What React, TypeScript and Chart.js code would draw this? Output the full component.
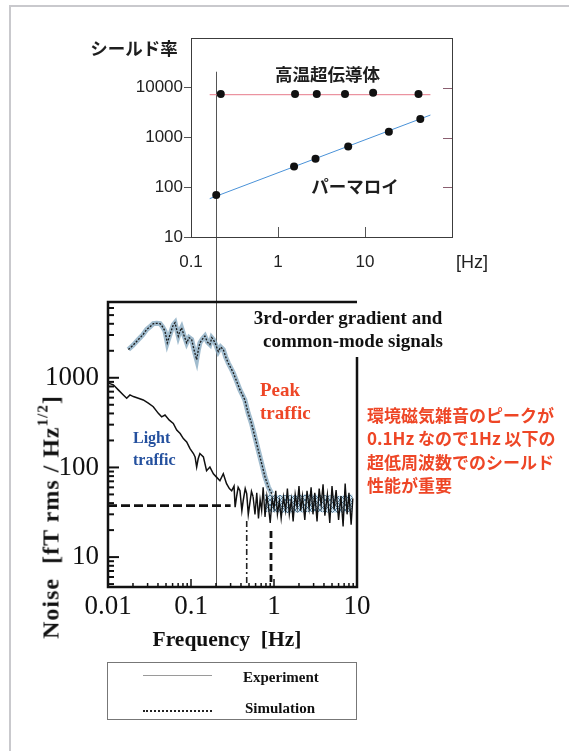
import React, { useEffect, useRef } from "react";
import { Chart, registerables } from "chart.js";

Chart.register(...registerables);

// ---------------- Top chart: shielding factor vs frequency ----------------
const SC_FREQ = [0.22, 1.57, 2.79, 5.89, 12.4, 41.2];
const SC_VALUES = [7470, 7470, 7470, 7470, 7900, 7470];
const SC_FIT_FREQ = [0.164, 56.5];
const SC_FIT_VALUES = [7250, 7250];
const PM_FREQ = [0.195, 1.53, 2.7, 6.41, 18.8, 43.2];
const PM_VALUES = [70, 262, 374, 661, 1306, 2350];
const PM_FIT_FREQ = [0.164, 56.5];
const PM_FIT_VALUES = [59, 2825];
const TOP_X_TICKS = [0.1, 1, 10];
const TOP_Y_TICKS = [10, 100, 1000, 10000];
const TOP_RIGHT_TICKS = [100, 1000, 10000];
const TOP_X_RANGE = [0.1, 100];
const TOP_Y_RANGE = [10, 100000];
const MARKER_FREQ_TOP = 0.194;
const MARKER_TOP_VALUE = 21000;

// ---------------- Bottom chart: environmental noise ----------------
const BOT_X_TICKS = [0.01, 0.1, 1, 10];
const BOT_Y_TICKS = [10, 100, 1000];
const BOT_X_RANGE = [0.01, 10];
const BOT_Y_RANGE = [4.64, 7000];
const MARKER_FREQ_BOTTOM = 0.2;
const RIGHT_BORDER_FROM = 1700;
const MINOR_MULTIPLIERS = [2, 3, 4, 5, 6, 7, 8, 9];
const BOT_Y_DECADES = [1, 10, 100, 1000];
const BOT_X_DECADES = [0.01, 0.1, 1];

const PEAK_FREQ = [
  0.0176, 0.02, 0.0232, 0.0262, 0.0292, 0.032, 0.0351, 0.0385, 0.0424, 0.0455,
  0.0486, 0.0518, 0.055, 0.0585, 0.0612, 0.0642, 0.067, 0.0703, 0.0735, 0.077,
  0.082, 0.0887, 0.095, 0.1018, 0.108, 0.117, 0.122, 0.128, 0.137, 0.147,
  0.158, 0.169, 0.178, 0.186, 0.2, 0.213, 0.228, 0.245, 0.262, 0.281,
  0.3, 0.324, 0.355, 0.389, 0.415, 0.445, 0.489, 0.536, 0.589, 0.647,
  0.711, 0.78, 0.858, 0.94,
];
const PEAK_VALUES = [
  2066, 2300, 2670, 3000, 3460, 3700, 4010, 4050, 4010, 3700,
  3310, 2450, 2900, 3460, 3900, 4110, 3500, 2910, 3300, 3610,
  3000, 2450, 2800, 2670, 2100, 1590, 2000, 2450, 2700, 2910,
  2500, 2350, 2800, 2670, 2300, 1970, 2200, 2066, 1700, 1460,
  1300, 1130, 910, 733, 650, 566, 401, 310, 219, 155,
  110, 78, 60, 51,
];

const LIGHT_FREQ = [
  0.0101, 0.0116, 0.0133, 0.0153, 0.0168, 0.0184, 0.0202, 0.0232, 0.0266, 0.0306,
  0.0351, 0.0404, 0.0443, 0.0486, 0.0548, 0.0612, 0.0673, 0.074, 0.0809, 0.0887,
  0.0973, 0.107, 0.112, 0.117, 0.122, 0.128, 0.141, 0.154, 0.169, 0.186,
  0.203, 0.223, 0.245, 0.268, 0.29, 0.309, 0.33, 0.34, 0.355, 0.37,
  0.389, 0.41, 0.426, 0.45, 0.469, 0.49, 0.51, 0.535, 0.56,
];
const LIGHT_VALUES = [
  872, 834, 733, 644, 591, 644, 617, 591, 566, 520,
  476, 401, 367, 384, 337, 310, 261, 239, 210, 192,
  162, 143, 131, 101, 125, 143, 131, 92, 101, 85,
  78, 71, 85, 66, 58, 55, 62, 36, 48, 60,
  55, 33, 43, 58, 51, 30, 39, 54, 47,
];

const FLOOR_FREQ = [
  0.56, 0.59, 0.62, 0.65, 0.68, 0.71, 0.74, 0.78, 0.82, 0.86,
  0.9, 0.95, 1.0, 1.05, 1.1, 1.16, 1.22, 1.3, 1.38, 1.45,
  1.53, 1.62, 1.7, 1.8, 1.9, 2.0, 2.1, 2.2, 2.35, 2.5,
  2.65, 2.8, 2.95, 3.1, 3.3, 3.5, 3.7, 3.9, 4.1, 4.4,
  4.7, 5.0, 5.3, 5.6, 6.0, 6.4, 6.8, 7.2, 7.6, 8.0,
  8.5, 8.9,
];
const FLOOR_VALUES = [
  47, 30, 52, 27, 44, 33, 60, 28, 48, 36,
  24, 45, 35, 55, 30, 42, 27, 47, 33, 58,
  30, 44, 25, 50, 36, 62, 33, 48, 26, 55,
  35, 60, 30, 52, 25, 58, 38, 65, 29, 50,
  24, 62, 34, 56, 26, 48, 22, 66, 30, 52,
  23, 45,
];

const BAND_FREQ = [0.78, 1.5, 3, 6, 8.9];
const BAND_TOP = [50, 49, 50, 48, 50];
const BAND_BOTTOM = [32, 31, 32, 31, 32];

const SIM_FREQ = [0.01, 0.3];
const SIM_VALUES = [37.5, 37.5];
const SIM_CUT1_FREQ = [0.469, 0.469];
const SIM_CUT1_VALUES = [25.3, 4.64];
const SIM_CUT2_FREQ = [0.92, 0.92];
const SIM_CUT2_VALUES = [19.6, 4.64];

const sansFont = "'Liberation Sans', Arial, sans-serif";
const serifFont = "'Liberation Serif', 'Times New Roman', serif";
const cjkFont = "'Noto Sans CJK JP', 'Noto Sans CJK SC', sans-serif";

const pts = (xs: number[], ys: number[]) => xs.map((x, i) => ({ x, y: ys[i] }));

function makeHatch(): CanvasPattern | string {
  const c = document.createElement("canvas");
  c.width = 5;
  c.height = 5;
  const g = c.getContext("2d");
  if (!g) return "rgba(150,185,210,0.7)";
  g.fillStyle = "rgba(205,225,238,1)";
  g.fillRect(0, 0, 5, 5);
  g.strokeStyle = "rgba(60,100,130,0.85)";
  g.lineWidth = 1;
  g.beginPath();
  g.moveTo(0, 0);
  g.lineTo(5, 5);
  g.moveTo(5, 0);
  g.lineTo(0, 5);
  g.stroke();
  return g.createPattern(c, "repeat") || "rgba(150,185,210,0.7)";
}

const noPadX = (s: any) => { s.paddingLeft = 0; s.paddingRight = 0; };
const noPadY = (s: any) => { s.paddingTop = 0; s.paddingBottom = 0; };

const topFrame = {
  id: "topFrame",
  beforeDatasetsDraw(chart: any) {
    const { ctx } = chart;
    const x = chart.scales.x;
    const y = chart.scales.y;
    const mx = Math.round(x.getPixelForValue(MARKER_FREQ_TOP)) + 0.5;
    ctx.save();
    ctx.strokeStyle = "#555";
    ctx.lineWidth = 1;
    ctx.beginPath();
    ctx.moveTo(mx, y.getPixelForValue(MARKER_TOP_VALUE));
    ctx.lineTo(mx, chart.height);
    ctx.stroke();
    ctx.restore();
  },
  afterDatasetsDraw(chart: any) {
    const { ctx, chartArea: a } = chart;
    const x = chart.scales.x;
    const y = chart.scales.y;
    ctx.save();
    ctx.lineWidth = 1;
    ctx.strokeStyle = "#3c3c3c";
    ctx.strokeRect(Math.round(a.left) + 0.5, Math.round(a.top) + 0.5, a.right - a.left, a.bottom - a.top);
    ctx.strokeStyle = "#555";
    TOP_X_TICKS.slice(1).forEach((v) => {
      const px = Math.round(x.getPixelForValue(v)) + 0.5;
      ctx.beginPath();
      ctx.moveTo(px, a.bottom);
      ctx.lineTo(px, a.bottom - 10);
      ctx.stroke();
    });
    ctx.strokeStyle = "#8a5f70";
    TOP_RIGHT_TICKS.forEach((v) => {
      const py = Math.round(y.getPixelForValue(v)) + 0.5;
      ctx.beginPath();
      ctx.moveTo(a.right - 9, py);
      ctx.lineTo(a.right, py);
      ctx.stroke();
    });
    ctx.restore();
  },
};

const bottomFrame = {
  id: "bottomFrame",
  beforeDatasetsDraw(chart: any) {
    const { ctx, chartArea: a } = chart;
    const x = chart.scales.x;
    const mx = Math.round(x.getPixelForValue(MARKER_FREQ_BOTTOM)) + 0.5;
    ctx.save();
    ctx.strokeStyle = "#555";
    ctx.lineWidth = 1;
    ctx.beginPath();
    ctx.moveTo(mx, 0);
    ctx.lineTo(mx, a.bottom);
    ctx.stroke();
    ctx.restore();
  },
  afterDatasetsDraw(chart: any) {
    const { ctx, chartArea: a } = chart;
    const x = chart.scales.x;
    const y = chart.scales.y;
    ctx.save();
    ctx.strokeStyle = "#111";
    ctx.lineWidth = 2.5;
    ctx.beginPath();
    ctx.moveTo(a.right, y.getPixelForValue(RIGHT_BORDER_FROM));
    ctx.lineTo(a.right, a.bottom);
    ctx.lineTo(a.left, a.bottom);
    ctx.lineTo(a.left, a.top);
    ctx.lineTo(a.right, a.top);
    ctx.stroke();
    ctx.lineWidth = 2;
    BOT_Y_DECADES.forEach((d) => {
      [1, ...MINOR_MULTIPLIERS].forEach((m) => {
        const v = d * m;
        if (v < y.min || v > y.max) return;
        const py = y.getPixelForValue(v);
        const len = m === 1 ? 11 : 6;
        ctx.beginPath();
        ctx.moveTo(a.left, py);
        ctx.lineTo(a.left + len, py);
        ctx.stroke();
      });
    });
    ctx.lineWidth = 1.5;
    BOT_X_DECADES.forEach((d) => {
      [1, ...MINOR_MULTIPLIERS].forEach((m) => {
        const v = d * m;
        if (v <= x.min || v >= x.max) return;
        const px = x.getPixelForValue(v);
        const len = m === 1 ? 8 : 4;
        ctx.beginPath();
        ctx.moveTo(px, a.bottom);
        ctx.lineTo(px, a.bottom - len);
        ctx.stroke();
      });
    });
    ctx.restore();
  },
};

function topConfig(): any {
  return {
    type: "line",
    data: {
      datasets: [
        { data: pts(SC_FREQ, SC_VALUES), showLine: false, pointRadius: 4, pointBackgroundColor: "#111", pointBorderWidth: 0, order: 0 },
        { data: pts(PM_FREQ, PM_VALUES), showLine: false, pointRadius: 4, pointBackgroundColor: "#111", pointBorderWidth: 0, order: 0 },
        { data: pts(SC_FIT_FREQ, SC_FIT_VALUES), borderColor: "#e77a8b", borderWidth: 1, pointRadius: 0, order: 1 },
        { data: pts(PM_FIT_FREQ, PM_FIT_VALUES), borderColor: "#4a92d8", borderWidth: 1, pointRadius: 0, order: 1 },
      ],
    },
    options: {
      responsive: false,
      animation: false,
      events: [],
      layout: { padding: { left: 0, top: 38, right: 117, bottom: 0 } },
      plugins: { legend: { display: false }, tooltip: { enabled: false } },
      scales: {
        x: {
          type: "logarithmic",
          min: TOP_X_RANGE[0],
          max: TOP_X_RANGE[1],
          afterFit: (s: any) => { s.height = 58; noPadX(s); },
          afterBuildTicks: (s: any) => { s.ticks = TOP_X_TICKS.map((v) => ({ value: v })); },
          ticks: { autoSkip: false, maxRotation: 0, padding: 15, color: "#222", font: { family: sansFont, size: 17 }, callback: (v: any) => String(v) },
          grid: { display: false, drawTicks: false },
          border: { display: false },
        },
        y: {
          type: "logarithmic",
          min: TOP_Y_RANGE[0],
          max: TOP_Y_RANGE[1],
          afterFit: (s: any) => { s.width = 191; noPadY(s); },
          afterBuildTicks: (s: any) => { s.ticks = TOP_Y_TICKS.map((v) => ({ value: v })); },
          ticks: { autoSkip: false, padding: 1, color: "#222", font: { family: sansFont, size: 17 }, callback: (v: any) => String(v) },
          grid: { drawOnChartArea: false, drawTicks: true, tickLength: 7, color: "#555" },
          border: { display: false },
        },
      },
    },
    plugins: [topFrame],
  };
}

function bottomConfig(hatch: any): any {
  return {
    type: "line",
    data: {
      datasets: [
        { data: pts(BAND_FREQ, BAND_TOP), borderWidth: 0, pointRadius: 0, fill: "+1", backgroundColor: hatch, order: 8 },
        { data: pts(BAND_FREQ, BAND_BOTTOM), borderWidth: 0, pointRadius: 0, fill: false, order: 8 },
        { data: pts(PEAK_FREQ, PEAK_VALUES), borderColor: "rgba(130,165,190,0.75)", borderWidth: 5, pointRadius: 0, fill: false, order: 7 },
        { data: pts(PEAK_FREQ, PEAK_VALUES), borderColor: "#1a1a1a", borderWidth: 1.3, borderDash: [2, 1.5], pointRadius: 0, fill: false, order: 2 },
        { data: pts(LIGHT_FREQ, LIGHT_VALUES), borderColor: "#111", borderWidth: 1.5, pointRadius: 0, fill: false, order: 2 },
        { data: pts(FLOOR_FREQ, FLOOR_VALUES), borderColor: "#111", borderWidth: 1.4, pointRadius: 0, fill: false, order: 2 },
        { data: pts(SIM_FREQ, SIM_VALUES), borderColor: "#111", borderWidth: 2.8, borderDash: [9, 4], pointRadius: 0, fill: false, order: 1 },
        { data: pts(SIM_CUT1_FREQ, SIM_CUT1_VALUES), borderColor: "#222", borderWidth: 1.6, borderDash: [6, 3, 2, 3], pointRadius: 0, fill: false, order: 1 },
        { data: pts(SIM_CUT2_FREQ, SIM_CUT2_VALUES), borderColor: "#111", borderWidth: 2.8, borderDash: [7, 4], pointRadius: 0, fill: false, order: 1 },
      ],
    },
    options: {
      responsive: false,
      animation: false,
      events: [],
      layout: { padding: { left: 0, top: 7, right: 212, bottom: 0 } },
      plugins: { legend: { display: false }, tooltip: { enabled: false } },
      scales: {
        x: {
          type: "logarithmic",
          min: BOT_X_RANGE[0],
          max: BOT_X_RANGE[1],
          afterFit: (s: any) => { s.height = 164; noPadX(s); },
          afterBuildTicks: (s: any) => { s.ticks = BOT_X_TICKS.map((v) => ({ value: v })); },
          ticks: { autoSkip: false, maxRotation: 0, padding: 4, color: "#111", font: { family: serifFont, size: 27 }, callback: (v: any) => String(v) },
          grid: { display: false, drawTicks: false },
          border: { display: false },
        },
        y: {
          type: "logarithmic",
          min: BOT_Y_RANGE[0],
          max: BOT_Y_RANGE[1],
          afterFit: (s: any) => { s.width = 108; noPadY(s); },
          afterBuildTicks: (s: any) => { s.ticks = BOT_Y_TICKS.map((v) => ({ value: v })); },
          ticks: { autoSkip: false, padding: 9, color: "#111", font: { family: serifFont, size: 27 }, callback: (v: any) => String(v) },
          grid: { display: false, drawTicks: false },
          border: { display: false },
        },
      },
    },
    plugins: [bottomFrame],
  };
}

const label = (left: number, cy: number, fs: number, extra: React.CSSProperties = {}): React.CSSProperties => ({
  position: "absolute",
  left,
  top: cy - fs * 0.6,
  fontSize: fs,
  lineHeight: `${fs * 1.2}px`,
  whiteSpace: "pre",
  margin: 0,
  ...extra,
});

const centered = (cx: number, cy: number, fs: number, extra: React.CSSProperties = {}): React.CSSProperties =>
  label(cx - 150, cy, fs, { width: 300, textAlign: "center", ...extra });

const RED = "#ee4626";
const BLUE = "#24509e";

export default function App() {
  const topRef = useRef<HTMLCanvasElement>(null);
  const botRef = useRef<HTMLCanvasElement>(null);

  useEffect(() => {
    const top = new Chart(topRef.current as HTMLCanvasElement, topConfig());
    const bot = new Chart(botRef.current as HTMLCanvasElement, bottomConfig(makeHatch()));
    return () => {
      top.destroy();
      bot.destroy();
    };
  }, []);

  const jp: React.CSSProperties = { fontFamily: cjkFont, fontWeight: 700, color: "#1e1e1e" };
  const serifBold: React.CSSProperties = { fontFamily: serifFont, fontWeight: 700, color: "#111" };

  return (
    <div style={{ position: "absolute", left: 0, top: 0, width: 569, height: 751, overflow: "hidden", background: "#fff" }}>
      <div style={{ position: "absolute", left: 9, top: 5, width: 560, height: 746, borderTop: "2px solid #c9c9cd", borderLeft: "2px solid #c9c9cd", boxSizing: "border-box" }} />
      <canvas ref={topRef} width={569} height={295} style={{ position: "absolute", left: 0, top: 0, display: "block" }} />
      <canvas ref={botRef} width={569} height={456} style={{ position: "absolute", left: 0, top: 295, display: "block" }} />

      {/* top chart annotations */}
      <div style={centered(134, 47, 17.5, jp)}>シールド率</div>
      <div style={centered(327.5, 73, 17.5, jp)}>高温超伝導体</div>
      <div style={centered(355, 185.5, 17.5, jp)}>パーマロイ</div>
      <div style={centered(472, 263, 18, { fontFamily: sansFont, color: "#222" })}>[Hz]</div>

      {/* bottom chart annotations */}
      <div style={centered(348, 318, 19, serifBold)}>3rd-order gradient and</div>
      <div style={centered(353, 341.5, 19, serifBold)}>common-mode signals</div>
      <div style={label(260, 390, 19, { ...serifBold, color: RED })}>Peak</div>
      <div style={label(260, 413, 19, { ...serifBold, color: RED })}>traffic</div>
      <div style={label(133, 438, 16, { ...serifBold, color: BLUE })}>Light</div>
      <div style={label(133, 460, 16, { ...serifBold, color: BLUE })}>traffic</div>
      <div style={centered(227, 640, 21.5, serifBold)}>{"Frequency  [Hz]"}</div>
      <div
        style={{
          position: "absolute",
          left: 52,
          top: 517,
          transform: "translate(-50%, -50%) rotate(-90deg)",
          fontFamily: serifFont,
          fontWeight: 700,
          fontSize: 24,
          letterSpacing: 1,
          lineHeight: "24px",
          whiteSpace: "pre",
          color: "#111",
        }}
      >
        {"Noise  [fT rms / Hz"}
        <span style={{ fontSize: 15, position: "relative", top: -11 }}>1/2</span>
        {"]"}
      </div>

      {/* red explanatory note */}
      <div style={label(367, 415, 17, { ...jp, color: RED })}>環境磁気雑音のピークが</div>
      <div style={label(367, 438.3, 17, { ...jp, color: RED })}>0.1Hz なので1Hz 以下の</div>
      <div style={label(367, 461.7, 17, { ...jp, color: RED })}>超低周波数でのシールド</div>
      <div style={label(367, 485, 17, { ...jp, color: RED })}>性能が重要</div>

      {/* legend box */}
      <div style={{ position: "absolute", left: 107, top: 662, width: 250, height: 58, border: "1px solid #777", boxSizing: "border-box" }} />
      <div style={{ position: "absolute", left: 143, top: 675, width: 69, height: 0, borderTop: "1px solid #9a9a9a" }} />
      <div style={{ position: "absolute", left: 143, top: 710, width: 69, height: 0, borderTop: "2px dotted #222" }} />
      <div style={label(243, 677, 15, serifBold)}>Experiment</div>
      <div style={label(245, 708, 15, serifBold)}>Simulation</div>
    </div>
  );
}
